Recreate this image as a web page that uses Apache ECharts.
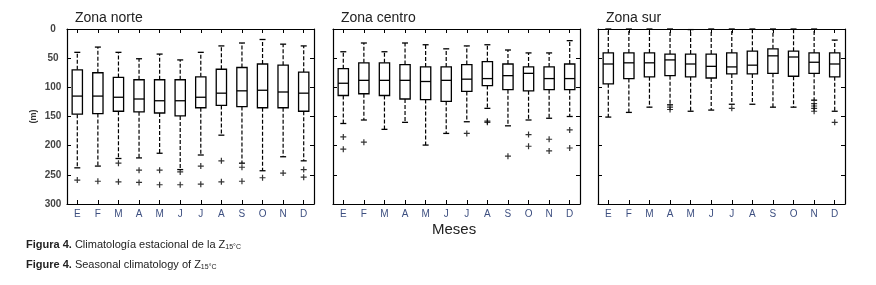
<!DOCTYPE html>
<html>
<head>
<meta charset="utf-8">
<script src="https://cdn.jsdelivr.net/npm/echarts@6/dist/echarts.min.js"></script>
<style>
  html, body { margin: 0; padding: 0; background: #fff; }
  #chart { width: 876px; height: 285px; }
</style>
</head>
<body>
<div id="chart"></div>
<script>
// meses (eje x)
const months = ['E', 'F', 'M', 'A', 'M', 'J', 'J', 'A', 'S', 'O', 'N', 'D']

// Zona norte: bigote sup, Q1, mediana, Q3, bigote inf (m)
const norteMin = [40, 31, 40, 51, 43, 53, 40, 29, 24, 18, 26, 29]
const norteQ1 = [70, 75, 83, 87, 87, 87, 82, 69, 66, 60, 62, 74]
const norteMed = [115, 115, 117, 120, 123, 123, 117, 110, 106, 105, 108, 110]
const norteQ3 = [146, 145, 141, 142, 144, 149, 135, 131, 133, 135, 135, 141]
const norteMax = [238, 235, 222, 221, 213, 241, 216, 182, 230, 243, 219, 226]
const norteOut = [[0, 259], [1, 261], [2, 230], [2, 262], [3, 242], [3, 263], [4, 242], [4, 267],
  [5, 245], [5, 267], [6, 235], [6, 266], [7, 226], [7, 262], [8, 237], [8, 261], [9, 255],
  [10, 247], [11, 241], [11, 254]]

// Zona centro
const centroMin = [39, 24, 39, 24, 27, 34, 29, 27, 36, 41, 41, 20]
const centroQ1 = [68, 58, 58, 61, 65, 65, 61, 56, 60, 65, 65, 60]
const centroMed = [93, 88, 88, 88, 90, 88, 86, 85, 80, 76, 85, 85]
const centroQ3 = [114, 111, 114, 120, 121, 124, 107, 97, 104, 106, 104, 104]
const centroMax = [162, 156, 172, 160, 199, 179, 159, 136, 166, 156, 153, 150]
const centroOut = [[0, 185], [0, 206], [1, 194], [6, 179], [7, 158], [7, 160], [8, 218],
  [9, 181], [9, 201], [10, 189], [10, 209], [11, 173], [11, 204]]

// Zona sur
const surMin = [0, 0, 0, 0, 1, 0, 0, 0, 0, 0, 0, 19]
const surQ1 = [41, 41, 41, 43, 43, 43, 41, 38, 34, 38, 41, 41]
const surMed = [60, 58, 58, 53, 60, 64, 65, 62, 46, 48, 57, 60]
const surQ3 = [94, 85, 82, 80, 82, 84, 77, 77, 76, 81, 76, 82]
const surMax = [151, 143, 134, 130, 141, 139, 129, 129, 134, 134, 122, 141]
const surOut = [[3, 134], [3, 138], [6, 136], [10, 128], [10, 132], [10, 136], [10, 141], [11, 160]]

const zones = [
  { name: 'Zona norte', left: 67, min: norteMin, q1: norteQ1, med: norteMed, q3: norteQ3, max: norteMax, out: norteOut },
  { name: 'Zona centro', left: 333, min: centroMin, q1: centroQ1, med: centroMed, q3: centroQ3, max: centroMax, out: centroOut },
  { name: 'Zona sur', left: 598, min: surMin, q1: surQ1, med: surMed, q3: surQ3, max: surMax, out: surOut }
]

const chart = echarts.init(document.getElementById('chart'))

const renderBox = (params, api) => {
  const x = api.value(0)
  const lo = api.coord([x, api.value(1)])
  const q1 = api.coord([x, api.value(2)])
  const md = api.coord([x, api.value(3)])
  const q3 = api.coord([x, api.value(4)])
  const hi = api.coord([x, api.value(5)])
  const bw = api.size([1, 0])[0] * 0.5
  const cx = md[0]
  const cap = 3
  const solid = { stroke: '#000', lineWidth: 1.3, fill: null }
  const dash = { stroke: '#000', lineWidth: 1.2, lineDash: [4, 2], fill: null }
  return {
    type: 'group',
    children: [
      { type: 'line', shape: { x1: cx, y1: q1[1], x2: cx, y2: lo[1] }, style: dash },
      { type: 'line', shape: { x1: cx, y1: q3[1], x2: cx, y2: hi[1] }, style: dash },
      { type: 'line', shape: { x1: cx - cap, y1: lo[1], x2: cx + cap, y2: lo[1] }, style: solid },
      { type: 'line', shape: { x1: cx - cap, y1: hi[1], x2: cx + cap, y2: hi[1] }, style: solid },
      { type: 'rect', shape: { x: cx - bw / 2, y: Math.min(q1[1], q3[1]), width: bw, height: Math.abs(q3[1] - q1[1]) }, style: { stroke: '#000', lineWidth: 1.3, fill: '#fff' } },
      { type: 'line', shape: { x1: cx - bw / 2, y1: md[1], x2: cx + bw / 2, y2: md[1] }, style: solid }
    ]
  }
}

const plus = 'path://M4,0 L6,0 L6,10 L4,10 Z M0,4 L10,4 L10,6 L0,6 Z'

const grid = [], xAxis = [], yAxis = [], series = [], title = []
zones.forEach((z, i) => {
  grid.push({ left: z.left, top: 29, width: 247, height: 175 })
  title.push({ text: z.name, left: z.left + 3, top: 6, textStyle: { fontSize: 14, fontWeight: 'normal', color: '#222', fontFamily: 'Liberation Sans' } })
  xAxis.push({
    type: 'category', gridIndex: i, data: months, position: 'bottom',
    axisLine: { onZero: false, lineStyle: { color: '#000', width: 1.2 } },
    axisTick: { show: true, inside: true, length: 4, alignWithLabel: true, lineStyle: { color: '#000' } },
    axisLabel: { margin: 5, fontSize: 10, color: '#3d4f80', fontFamily: 'Liberation Sans' }
  })
  xAxis.push({
    type: 'category', gridIndex: i, data: months, position: 'top',
    axisLine: { onZero: false, lineStyle: { color: '#000', width: 1.2 } },
    axisTick: { show: true, inside: true, length: 4, alignWithLabel: true, lineStyle: { color: '#000' } },
    axisLabel: { show: false }
  })
  yAxis.push({
    type: 'value', gridIndex: i, min: 0, max: 300, interval: 50, inverse: true,
    position: 'left', splitLine: { show: false },
    axisLine: { show: true, onZero: false, lineStyle: { color: '#000', width: 1.2 } },
    axisTick: { show: true, inside: true, length: 4, lineStyle: { color: '#000' } },
    name: i === 0 ? '(m)' : '', nameLocation: 'middle', nameRotate: 90, nameGap: 29,
    nameTextStyle: { fontSize: 9, color: '#333', fontWeight: 'bold', fontFamily: 'Liberation Sans' },
    axisLabel: { show: i === 0, margin: 14, align: 'center', fontSize: 10, fontWeight: 'bold', color: '#444', fontFamily: 'Liberation Sans' }
  })
  yAxis.push({
    type: 'value', gridIndex: i, min: 0, max: 300, interval: 50, inverse: true,
    position: 'right', splitLine: { show: false },
    axisLine: { show: true, onZero: false, lineStyle: { color: '#000', width: 1.2 } },
    axisTick: { show: true, inside: true, length: 4, lineStyle: { color: '#000' } },
    axisLabel: { show: false }
  })
  const boxData = months.map((m, k) => [k, z.min[k], z.q1[k], z.med[k], z.q3[k], z.max[k]])
  series.push({
    type: 'custom', xAxisIndex: i * 2, yAxisIndex: i * 2,
    renderItem: renderBox, data: boxData, silent: true
  })
  series.push({
    type: 'scatter', xAxisIndex: i * 2, yAxisIndex: i * 2,
    symbol: plus, symbolSize: 6, itemStyle: { color: '#000' }, data: z.out, silent: true
  })
})

const option = {
  backgroundColor: '#fff',
  animation: false,
  title: title,
  grid: grid,
  xAxis: xAxis,
  yAxis: yAxis,
  series: series,
  graphic: [
    { type: 'text', left: 432, top: 222, style: { text: 'Meses', fontSize: 15, fill: '#222', fontFamily: 'Liberation Sans' } },
    {
      type: 'text', left: 26, top: 239,
      style: {
        text: '{b|Figura 4.} Climatología estacional de la Z{s|15°C}',
        fontSize: 11, fill: '#222', fontFamily: 'Liberation Sans',
        rich: { b: { fontWeight: 'bold', fontSize: 11 }, s: { fontSize: 7, padding: [6, 0, 0, 0] } }
      }
    },
    {
      type: 'text', left: 26, top: 259,
      style: {
        text: '{b|Figure 4.} Seasonal climatology of Z{s|15°C}',
        fontSize: 11, fill: '#222', fontFamily: 'Liberation Sans',
        rich: { b: { fontWeight: 'bold', fontSize: 11 }, s: { fontSize: 7, padding: [6, 0, 0, 0] } }
      }
    }
  ]
}
chart.setOption(option)
</script>
</body>
</html>
